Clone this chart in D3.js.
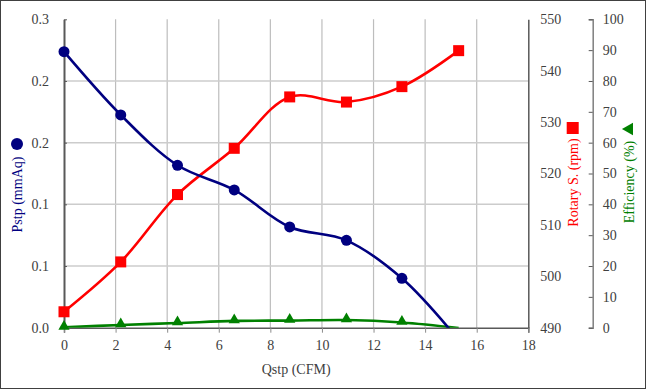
<!DOCTYPE html>
<html><head><meta charset="utf-8">
<script src="https://cdn.jsdelivr.net/npm/d3@7"></script>
<style>
html,body{margin:0;padding:0;background:#fff;}
svg{display:block;font-family:"Liberation Serif","Times New Roman",serif;}
svg text{font-family:"Liberation Serif","Times New Roman",serif;}
</style></head>
<body>
<svg id="chart" width="647" height="390"></svg>
<script>
// ---- data ----
const qstp = [0, 2.2, 4.4, 6.6, 8.75, 10.95, 13.1, 15.3];
const pstp = [0.2685, 0.207, 0.158, 0.134, 0.098, 0.085, 0.048, -0.012];
const rotary = [493.1, 502.8, 515.9, 524.9, 534.9, 533.9, 536.9, 543.9];
const efficiency = [0.1, 0.9, 1.5, 2.2, 2.3, 2.5, 1.7, -0.1];
const xTicks = [0, 2, 4, 6, 8, 10, 12, 14, 16, 18];
const leftTicks = [0, 0.06, 0.12, 0.18, 0.24, 0.3];
const leftTickLabels = ["0.0", "0.1", "0.1", "0.2", "0.2", "0.3"];
const rpmTicks = [490, 500, 510, 520, 530, 540, 550];
const effTicks = [0, 10, 20, 30, 40, 50, 60, 70, 80, 90, 100];

const svg = d3.select("#chart");
const L = 64, R = 528.3, T = 19.3, B = 327.7;
const x = d3.scaleLinear().domain([0, 18]).range([L, R]);
const yP = d3.scaleLinear().domain([0, 0.3]).range([B, T]);
const yR = d3.scaleLinear().domain([490, 550]).range([B, T]);
const yE = d3.scaleLinear().domain([0, 100]).range([B, T]);

const navy = "#000080", red = "#ff0000", green = "#008000", txt = "#404040";

// outer border
svg.append("rect").attr("x", 0.5).attr("y", 0.5).attr("width", 645).attr("height", 388)
  .attr("fill", "#fff").attr("stroke", "#404040").attr("stroke-width", 1);

// gridlines
const grid = svg.append("g");
grid.selectAll("line.v").data(xTicks.filter(d => d > 0 && d < 18)).join("line")
  .attr("x1", d => x(d)).attr("x2", d => x(d)).attr("y1", T).attr("y2", B)
  .attr("stroke", "#bdbdbd").attr("stroke-width", 1.2);
grid.selectAll("line.h").data(leftTicks.filter(d => d > 0 && d < 0.3)).join("line")
  .attr("x1", L).attr("x2", R).attr("y1", d => yP(d)).attr("y2", d => yP(d))
  .attr("stroke", "#cccccc").attr("stroke-width", 1.5);

// bottom axis
const xAxis = svg.append("g").attr("transform", `translate(0,${B})`)
  .call(d3.axisBottom(x).tickValues(xTicks).tickSize(5).tickFormat(d3.format("d")));
xAxis.attr("font-family", null);
xAxis.select(".domain").attr("stroke", "#595959").attr("stroke-width", 1.5);
xAxis.selectAll(".tick line").attr("stroke", "#8c8c8c");
xAxis.selectAll("text").attr("font-size", 14).attr("fill", txt).attr("dy", "1.0em");

// left axis
const lAxis = svg.append("g").attr("transform", `translate(${L},0)`)
  .call(d3.axisLeft(yP).tickValues(leftTicks).tickSizeInner(-3).tickSizeOuter(0).tickPadding(15)
    .tickFormat((d, i) => leftTickLabels[i]));
lAxis.attr("font-family", null);
lAxis.select(".domain").attr("stroke", "#595959").attr("stroke-width", 2);
lAxis.selectAll(".tick line").attr("stroke", "#595959");
lAxis.selectAll("text").attr("font-size", 14).attr("fill", txt);

// right (rpm) axis
const rAxis = svg.append("g").attr("transform", `translate(${R},0)`)
  .call(d3.axisRight(yR).tickValues(rpmTicks).tickSize(0).tickPadding(12).tickFormat(d3.format("d")));
rAxis.attr("font-family", null);
rAxis.select(".domain").attr("stroke", "#595959").attr("stroke-width", 1.5);
rAxis.selectAll("text").attr("font-size", 14).attr("fill", txt);

// efficiency axis
const eX = 592.7;
const eAxis = svg.append("g").attr("transform", `translate(${eX},0)`)
  .call(d3.axisRight(yE).tickValues(effTicks).tickSizeInner(-4).tickSizeOuter(-4).tickPadding(10).tickFormat(d3.format("d")));
eAxis.attr("font-family", null);
eAxis.select(".domain").attr("stroke", "#7f7f7f").attr("stroke-width", 1.5);
eAxis.selectAll(".tick line").attr("stroke", "#595959");
eAxis.selectAll("text").attr("font-size", 14).attr("fill", txt);

// series
const curve = d3.curveCatmullRom.alpha(0.5);
svg.append("clipPath").attr("id", "clipB").append("rect")
  .attr("x", 0).attr("y", 0).attr("width", 647).attr("height", B);

function drawLine(vals, yScale, color, clip) {
  const g = svg.append("g");
  if (clip) g.attr("clip-path", "url(#clipB)");
  g.append("path").datum(qstp.map((q, i) => [q, vals[i]]))
    .attr("fill", "none").attr("stroke", color).attr("stroke-width", 2.6)
    .attr("d", d3.line().x(d => x(d[0])).y(d => yScale(d[1])).curve(curve));
  return svg.append("g");
}

// efficiency (green)
const gE = drawLine(efficiency, yE, green, true);
gE.selectAll("path").data(qstp.map((q, i) => [q, efficiency[i]]).filter(d => d[1] >= 0)).join("path")
  .attr("transform", d => `translate(${x(d[0])},${yE(d[1]) - 1})`)
  .attr("d", d3.symbol().type(d3.symbolTriangle).size(55)).attr("fill", green);

// rotary (red)
const gR = drawLine(rotary, yR, red, false);
gR.selectAll("rect").data(qstp.map((q, i) => [q, rotary[i]])).join("rect")
  .attr("x", d => x(d[0]) - 5.5).attr("y", d => yR(d[1]) - 5.5)
  .attr("width", 11).attr("height", 11).attr("fill", red);

// pstp (navy)
const gP = drawLine(pstp, yP, navy, true);
gP.selectAll("circle").data(qstp.map((q, i) => [q, pstp[i]]).filter(d => d[1] >= 0)).join("circle")
  .attr("cx", d => x(d[0])).attr("cy", d => yP(d[1])).attr("r", 5.5).attr("fill", navy);

// axis titles
svg.append("text").attr("x", (L + R) / 2).attr("y", 374).attr("text-anchor", "middle")
  .attr("font-size", 14).attr("fill", txt).text("Qstp (CFM)");

function vTitle(cx, cy, label, color) {
  svg.append("text").attr("transform", `translate(${cx},${cy}) rotate(-90)`)
    .attr("text-anchor", "middle").attr("dy", "0.35em").attr("font-size", 14)
    .attr("fill", color).text(label);
}
vTitle(17, 194.5, "Pstp (mmAq)", navy);
svg.append("circle").attr("cx", 17).attr("cy", 144).attr("r", 6).attr("fill", navy);

vTitle(572.7, 182.5, "Rotary S. (rpm)", red);
svg.append("rect").attr("x", 572.7 - 6).attr("y", 122).attr("width", 12).attr("height", 12).attr("fill", red);

vTitle(629.3, 182, "Efficiency (%)", green);
svg.append("path").attr("transform", `translate(629.3,129) rotate(-90)`)
  .attr("d", d3.symbol().type(d3.symbolTriangle).size(70)).attr("fill", green);
</script>
</body></html>
